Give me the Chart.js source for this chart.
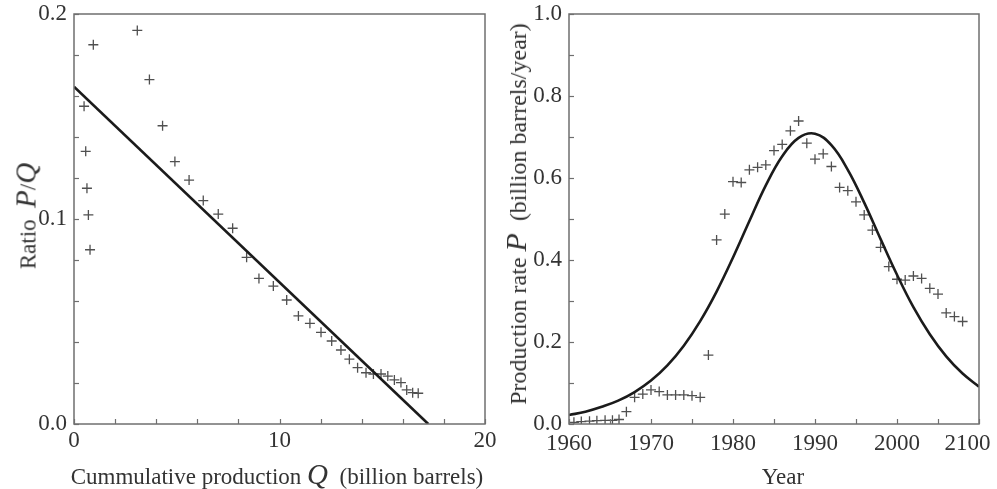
<!DOCTYPE html>
<html>
<head>
<meta charset="utf-8">
<script src="https://cdn.jsdelivr.net/npm/chart.js@4"></script>
<style>
    html, body { margin: 0; padding: 0; background: #fff; }
    #wrap { position: relative; width: 997px; height: 489px; overflow: hidden; }
    canvas { position: absolute; top: 0; }
    #ratioChart { left: 0; }
    #rateChart { left: 497px; }
    .axis-title {
        position: absolute;
        font-family: 'Liberation Serif', 'Times New Roman', serif;
        font-size: 23px;
        color: #333;
        white-space: nowrap;
        line-height: 1;
    }
    .axis-title i { font-size: 29px; }
    .vertical { transform: translate(-50%, -50%) rotate(-90deg); }
    .horizontal { transform: translate(-50%, 0); }
</style>
</head>
<body>
<div id="wrap">
    <canvas id="ratioChart" width="497" height="489"></canvas>
    <canvas id="rateChart" width="500" height="489"></canvas>
    <div class="axis-title vertical" style="left:26px; top:216px;">Ratio&nbsp; <i>P</i>/<i>Q</i></div>
    <div class="axis-title horizontal" style="left:277px; top:460px;">Cummulative production <i>Q</i>&nbsp; (billion barrels)</div>
    <div class="axis-title vertical" style="left:516px; top:214px; font-size:24px;">Production rate <i style="font-size:30px;">P</i>&nbsp; (billion barrels/year)</div>
    <div class="axis-title horizontal" style="left:783px; top:465px;">Year</div>
</div>
<script>
// Left panel: P/Q against cumulative production Q
const cumulativeQ = [0.49, 0.57, 0.63, 0.70, 0.78, 0.94, 3.08, 3.67, 4.31, 4.91, 5.60, 6.29, 7.02, 7.72,
    8.40, 9.00, 9.70, 10.35, 10.92, 11.48, 12.02, 12.54, 12.99, 13.40, 13.80, 14.21, 14.57, 14.94,
    15.27, 15.59, 15.91, 16.19, 16.48, 16.75];
const ratioPQ = [0.155, 0.133, 0.115, 0.102, 0.085, 0.185, 0.192, 0.168, 0.1455, 0.128, 0.119, 0.109, 0.1024, 0.0955,
    0.0813, 0.071, 0.0673, 0.0605, 0.0527, 0.0491, 0.0447, 0.0405, 0.0361, 0.0316, 0.0275, 0.025, 0.0244, 0.0244,
    0.0234, 0.0215, 0.0202, 0.0166, 0.0153, 0.015];
const fitQ = [0, 17.24];
const fitRatio = [0.1645, 0];

// Right panel: production rate P against year
const years = [1960.6, 1961.5, 1962.5, 1963.4, 1964.4, 1965.3, 1966.1, 1967, 1968, 1969, 1970, 1971, 1972,
    1973, 1974, 1975, 1976, 1977, 1978, 1979, 1980, 1981, 1982, 1983, 1984, 1985, 1986, 1987, 1988, 1989,
    1990, 1991, 1992, 1993, 1994, 1995, 1996, 1997, 1998, 1999, 2000, 2001, 2002, 2003, 2004, 2005, 2006,
    2007, 2008];
const productionRate = [0.004, 0.006, 0.007, 0.008, 0.009, 0.009, 0.011, 0.03, 0.065, 0.073, 0.083, 0.079, 0.071,
    0.071, 0.071, 0.069, 0.065, 0.168, 0.449, 0.512, 0.591, 0.589, 0.62, 0.626, 0.632, 0.667, 0.682, 0.715, 0.739, 0.685,
    0.646, 0.659, 0.628, 0.577, 0.569, 0.542, 0.510, 0.473, 0.431, 0.384, 0.353, 0.351, 0.361, 0.355, 0.331, 0.317, 0.271,
    0.262, 0.25];
const fitYears = [1960, 1962, 1964, 1966, 1968, 1970, 1972, 1974, 1976, 1978, 1980, 1982, 1984, 1986, 1988,
    1990, 1992, 1994, 1996, 1998, 2000, 2002, 2004, 2006, 2008, 2010];
const fitRate = [0.022, 0.030, 0.042, 0.057, 0.078, 0.106, 0.143, 0.191, 0.251, 0.323, 0.406, 0.495, 0.582,
    0.653, 0.698, 0.708, 0.680, 0.620, 0.540, 0.451, 0.364, 0.285, 0.219, 0.165, 0.123, 0.091];

// Tick labels (only every other / fifth tick carries one)
const ratioTickLabels = ['0.0', '0.1', '0.2'];
const qTickLabels = ['0', '10', '20'];
const rateTickLabels = ['0.0', '0.2', '0.4', '0.6', '0.8', '1.0'];
const yearTickLabels = ['1960', '1970', '1980', '1990', '2000', '2100'];

const serif = "'Liberation Serif', 'Times New Roman', serif";
const textColor = '#333';
const frameColor = '#6f6f6f';
const markColor = '#505050';

function toPoints(xs, ys) {
    return xs.map((x, i) => ({ x: x, y: ys[i] }));
}

// Frame around the plot and short inward tick marks
const framePlugin = {
    id: 'frame',
    afterDraw(chart) {
        const ctx = chart.ctx;
        const area = chart.chartArea;
        ctx.save();
        ctx.strokeStyle = frameColor;
        ctx.lineWidth = 1.5;
        ctx.strokeRect(area.left, area.top, area.right - area.left, area.bottom - area.top);
        ctx.lineWidth = 1.2;
        const xs = chart.scales.x;
        xs.ticks.forEach(t => {
            const px = Math.round(xs.getPixelForValue(t.value)) + 0.5;
            ctx.beginPath();
            ctx.moveTo(px, area.bottom);
            ctx.lineTo(px, area.bottom - 5);
            ctx.stroke();
        });
        const ys = chart.scales.y;
        ys.ticks.forEach(t => {
            const py = Math.round(ys.getPixelForValue(t.value)) + 0.5;
            ctx.beginPath();
            ctx.moveTo(area.left, py);
            ctx.lineTo(area.left + 5, py);
            ctx.stroke();
        });
        ctx.restore();
    }
};

// lastPad: trailing spaces so the last label stays inside the page, as in the original
function makeScale(min, max, step, every, labels, isX, size, pad, lastPad) {
    return {
        type: 'linear',
        min: min,
        max: max,
        grid: { display: false, drawTicks: false },
        border: { display: false },
        ticks: {
            stepSize: step,
            autoSkip: false,
            maxRotation: 0,
            padding: pad,
            color: textColor,
            font: { family: serif, size: 23 },
            callback: (value, index, ticks) => {
                if (index % every !== 0) return '';
                const label = labels[index / every];
                return (lastPad && index === ticks.length - 1) ? label + lastPad : label;
            }
        },
        afterFit: s => {
            if (isX) s.height = size; else s.width = size;
            s.paddingLeft = 0; s.paddingRight = 0;
            s.paddingTop = 0; s.paddingBottom = 0;
        }
    };
}

function baseOptions(padRight, xScale, yScale) {
    return {
        responsive: false,
        animation: false,
        layout: { padding: { left: 0, right: padRight, top: 14, bottom: 0 } },
        plugins: { legend: { display: false }, tooltip: { enabled: false } },
        scales: { x: xScale, y: yScale }
    };
}

function scatterSet(points) {
    return {
        data: points,
        pointStyle: 'cross',
        pointRadius: 5,
        pointBorderWidth: 1.3,
        pointBorderColor: markColor,
        pointBackgroundColor: markColor,
        showLine: false
    };
}

function fitSet(points, tension) {
    return {
        data: points,
        showLine: true,
        pointRadius: 0,
        borderColor: '#1b1b1b',
        borderWidth: 2.6,
        tension: tension,
        fill: false
    };
}

new Chart(document.getElementById('ratioChart'), {
    type: 'scatter',
    data: {
        datasets: [
            fitSet(toPoints(fitQ, fitRatio), 0),
            scatterSet(toPoints(cumulativeQ, ratioPQ))
        ]
    },
    options: baseOptions(12,
        makeScale(0, 20, 2, 5, qTickLabels, true, 65, 3),
        makeScale(0, 0.2, 0.02, 5, ratioTickLabels, false, 74, 7)),
    plugins: [framePlugin]
});

new Chart(document.getElementById('rateChart'), {
    type: 'scatter',
    data: {
        datasets: [
            fitSet(toPoints(fitYears, fitRate), 0.4),
            scatterSet(toPoints(years, productionRate))
        ]
    },
    options: baseOptions(18,
        makeScale(1960, 2010, 5, 2, yearTickLabels, true, 65, 6, '    '),
        makeScale(0, 1, 0.1, 2, rateTickLabels, false, 72, 7)),
    plugins: [framePlugin]
});
</script>
</body>
</html>
